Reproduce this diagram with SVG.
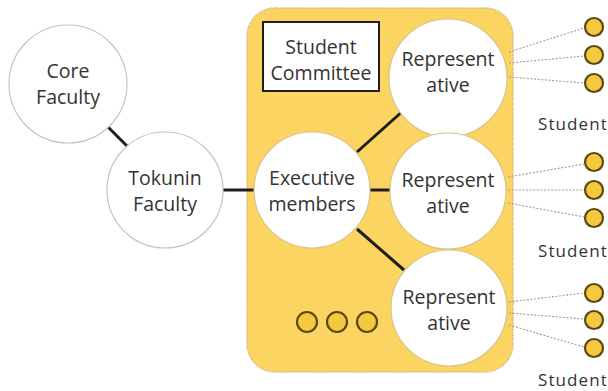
<svg xmlns="http://www.w3.org/2000/svg" width="608" height="391" viewBox="0 0 608 391">
<style>
.lbl{font-family:"Open Sans","Noto Sans",sans-serif;font-size:19.5px;fill:#333333;text-anchor:middle}
.stu{font-family:"Open Sans","Noto Sans",sans-serif;font-size:17px;fill:#333333;letter-spacing:1.1px}
.wc{fill:#ffffff;stroke:#c4c4c4;stroke-width:1.2}
.wcy{fill:#ffffff;stroke:#d6c68a;stroke-width:1.2}
.dot{fill:#f5c93e;stroke:#5a4a12;stroke-width:2.2}
.solid{stroke:#1e1e1e;stroke-width:3;fill:none}
.dash{stroke:#9a9aa6;stroke-width:1.1;stroke-dasharray:2 1.6;fill:none}
</style>
<rect width="608" height="391" fill="#ffffff"/>
<g id="student-committee-area">
<rect x="247" y="8" width="266" height="364" rx="28" ry="28" fill="#fbd462" stroke="#cfbc7e" stroke-width="1.5" stroke-dasharray="1.5 1"/>
</g>
<g id="connectors">
<line class="solid" x1="108" y1="127" x2="127" y2="146"/>
<line class="solid" x1="223" y1="190" x2="254" y2="190"/>
<line class="solid" x1="357" y1="152" x2="404" y2="110"/>
<line class="solid" x1="370" y1="190" x2="390" y2="190"/>
<line class="solid" x1="357" y1="229" x2="404" y2="270"/>
<line class="dash" x1="509" y1="52" x2="584" y2="28"/>
<line class="dash" x1="509" y1="63" x2="584" y2="56"/>
<line class="dash" x1="509" y1="77" x2="584" y2="83"/>
<line class="dash" x1="508" y1="177" x2="584" y2="164"/>
<line class="dash" x1="508" y1="190" x2="584" y2="190"/>
<line class="dash" x1="508" y1="203" x2="584" y2="217"/>
<line class="dash" x1="509" y1="302" x2="584" y2="293"/>
<line class="dash" x1="509" y1="313" x2="584" y2="319"/>
<line class="dash" x1="509" y1="325" x2="584" y2="347"/>
</g>
<g id="core-faculty">
<circle class="wc" cx="68" cy="84" r="59"/>
<text class="lbl" x="68" y="78">Core</text>
<text class="lbl" x="68" y="104">Faculty</text>
</g>
<g id="tokunin-faculty">
<circle class="wc" cx="165" cy="190" r="58"/>
<text class="lbl" x="165" y="185">Tokunin</text>
<text class="lbl" x="165" y="211">Faculty</text>
</g>
<g id="student-committee-label">
<rect x="263" y="22" width="116" height="69" fill="#ffffff" stroke="#1e1e1e" stroke-width="2"/>
<text class="lbl" x="321" y="54">Student</text>
<text class="lbl" x="321" y="80">Committee</text>
</g>
<g id="executive-members">
<circle class="wcy" cx="312" cy="190" r="58"/>
<text class="lbl" x="312" y="185">Executive</text>
<text class="lbl" x="312" y="211">members</text>
</g>
<g id="representative-1">
<circle class="wcy" cx="448" cy="78" r="59"/>
<text class="lbl" x="448" y="66">Represent</text>
<text class="lbl" x="448" y="92">ative</text>
</g>
<g id="representative-2">
<circle class="wcy" cx="448" cy="191" r="58"/>
<text class="lbl" x="448" y="187">Represent</text>
<text class="lbl" x="448" y="213">ative</text>
</g>
<g id="representative-3">
<circle class="wcy" cx="449" cy="308" r="58"/>
<text class="lbl" x="449" y="304">Represent</text>
<text class="lbl" x="449" y="330">ative</text>
</g>
<g id="more-dots">
<circle class="dot" cx="307" cy="322" r="10"/>
<circle class="dot" cx="337" cy="322" r="10"/>
<circle class="dot" cx="367" cy="322" r="10"/>
</g>
<g id="students-1">
<circle class="dot" cx="594" cy="27" r="9"/>
<circle class="dot" cx="594" cy="55" r="9"/>
<circle class="dot" cx="594" cy="83" r="9"/>
<text class="stu" x="538" y="130">Student</text>
</g>
<g id="students-2">
<circle class="dot" cx="594" cy="162" r="9"/>
<circle class="dot" cx="594" cy="190" r="9"/>
<circle class="dot" cx="594" cy="218" r="9"/>
<text class="stu" x="538" y="257">Student</text>
</g>
<g id="students-3">
<circle class="dot" cx="594" cy="293" r="9"/>
<circle class="dot" cx="594" cy="320" r="9"/>
<circle class="dot" cx="594" cy="348" r="9"/>
<text class="stu" x="538" y="386">Student</text>
</g>
</svg>
